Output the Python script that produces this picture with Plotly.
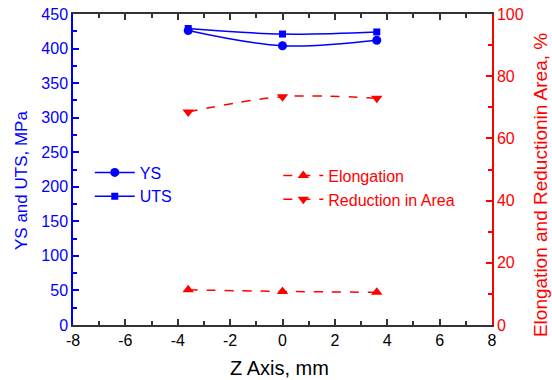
import plotly.graph_objects as go

z = [-3.6, 0, 3.6]
ys = [426, 404, 412]
uts = [429, 421, 424]
elong = [11.3, 10.8, 10.5]
ra = [68.5, 73.4, 72.9]

x_tickvals = [-8, -6, -4, -2, 0, 2, 4, 6, 8]
x_ticktext = ["-8", "-6", "-4", "-2", "0", "2", "4", "6", "8"]

BLUE = "#0000ff"
RED = "#ff0000"
FONT = "Liberation Sans, Arial, sans-serif"

fig = go.Figure()
fig.add_trace(go.Scatter(x=z, y=ys, name="YS", mode="lines+markers", line=dict(color=BLUE, width=1.5, shape="spline"),
                         marker=dict(symbol="circle", size=9, color=BLUE), legend="legend"))
fig.add_trace(go.Scatter(x=z, y=uts, name="UTS", mode="lines+markers", line=dict(color=BLUE, width=1.5, shape="spline"),
                         marker=dict(symbol="square", size=7, color=BLUE), legend="legend"))
fig.add_trace(go.Scatter(x=z, y=elong, name="Elongation", mode="lines+markers", yaxis="y2",
                         line=dict(color=RED, width=1.5, dash="dash", shape="spline"),
                         marker=dict(symbol="triangle-up", size=10, color=RED), legend="legend2"))
fig.add_trace(go.Scatter(x=z, y=ra, name="Reduction in Area", mode="lines+markers", yaxis="y2",
                         line=dict(color=RED, width=1.5, dash="dash", shape="spline"),
                         marker=dict(symbol="triangle-down", size=10, color=RED), legend="legend2"))

fig.update_layout(
    width=552, height=380,
    margin=dict(l=73, r=60, t=14, b=55, autoexpand=False),
    paper_bgcolor="white", plot_bgcolor="white",
    font=dict(family=FONT, size=16),
    xaxis=dict(range=[-8, 8], tickvals=x_tickvals, ticktext=x_ticktext, showgrid=False, zeroline=False,
               showline=True, linecolor="#333333", linewidth=1.5, mirror="ticks", automargin=False,
               ticks="inside", ticklen=6, tickcolor="#333333", tickwidth=1.5,
               minor=dict(dtick=1, tick0=-8, ticks="inside", ticklen=4, tickcolor="#333333", tickwidth=1.5),
               tickfont=dict(family=FONT, size=16, color="black")),
    yaxis=dict(range=[0, 450], dtick=50, showgrid=False, zeroline=False,
               showline=True, linecolor=BLUE, linewidth=1.5, automargin=False,
               ticks="inside", ticklen=6, tickcolor=BLUE, tickwidth=1.5,
               minor=dict(dtick=25, ticks="inside", ticklen=4, tickcolor=BLUE, tickwidth=1.5),
               tickfont=dict(family=FONT, size=16, color=BLUE)),
    yaxis2=dict(range=[0, 100], dtick=20, overlaying="y", side="right", showgrid=False, zeroline=False,
                showline=True, linecolor=RED, linewidth=1.5, automargin=False,
                ticks="inside", ticklen=6, tickcolor=RED, tickwidth=1.5,
                minor=dict(dtick=10, ticks="inside", ticklen=4, tickcolor=RED, tickwidth=1.5),
                tickfont=dict(family=FONT, size=16, color=RED)),
    legend=dict(x=0.04, y=0.545, xanchor="left", yanchor="top", bgcolor="rgba(0,0,0,0)",
                font=dict(family=FONT, size=16, color=BLUE), tracegroupgap=0, itemwidth=40),
    legend2=dict(x=0.49, y=0.535, xanchor="left", yanchor="top", bgcolor="rgba(0,0,0,0)",
                 font=dict(family=FONT, size=16, color=RED), tracegroupgap=0, itemwidth=40),
    annotations=[
        dict(text="Z Axis, mm", xref="paper", yref="paper", x=0.494, y=0, yshift=-43,
             xanchor="center", yanchor="middle", showarrow=False,
             font=dict(family=FONT, size=20, color="black")),
        dict(text="YS and UTS, MPa", xref="paper", yref="paper", x=0, y=0.463, xshift=-52,
             xanchor="center", yanchor="middle", textangle=-90, showarrow=False,
             font=dict(family=FONT, size=17, color=BLUE)),
        dict(text="Elongation and Reductionin Area, %", xref="paper", yref="paper", x=1, y=0.45, xshift=48,
             xanchor="center", yanchor="middle", textangle=-90, showarrow=False,
             font=dict(family=FONT, size=19, color=RED)),
    ],
)

fig.write_html("out.html")
